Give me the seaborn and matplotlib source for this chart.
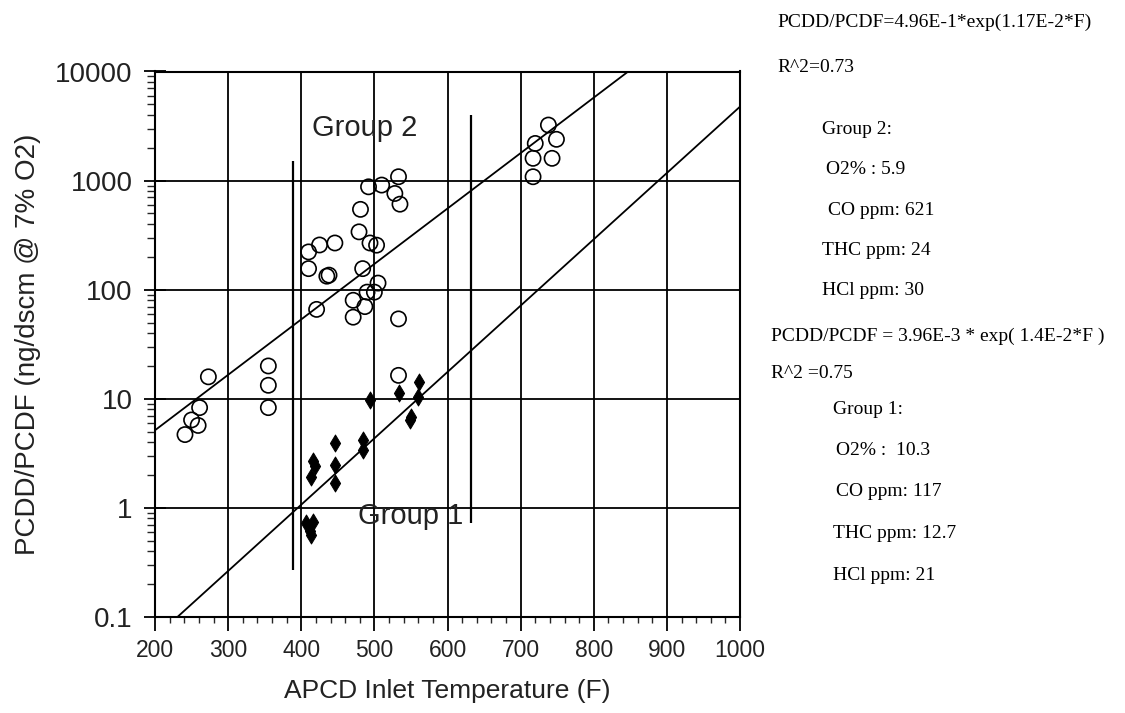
import numpy as np
import pandas as pd
import seaborn as sns
import matplotlib.pyplot as plt
from matplotlib.ticker import FixedLocator, LogLocator, NullFormatter

# group 2 (open circles)
g2_temp = [241, 250, 259, 261, 273, 355, 355, 355, 410, 410, 421, 425, 435, 438,
           446, 471, 471, 479, 481, 484, 487, 490, 494, 500, 503, 505, 492, 510,
           528, 533, 535, 533, 533, 717, 717, 720, 738, 743, 749]
g2_val = [4.7, 6.4, 5.7, 8.3, 15.9, 8.3, 13.3, 20, 222, 156, 66, 257, 133, 136,
          268, 80, 56, 339, 545, 156, 70, 95, 268, 95, 256, 115, 877, 910,
          762, 1085, 608, 54, 16.4, 1085, 1600, 2190, 3230, 1600, 2390]

# group 1 (filled diamonds)
g1_temp = [494, 533, 561, 560, 549, 550, 446, 485, 485, 416, 419, 414, 446, 446,
           407, 416, 412, 414]
g1_val = [9.7, 11.2, 14.3, 10.4, 6.4, 6.8, 3.9, 4.2, 3.4, 2.7, 2.4, 1.9, 2.45, 1.7,
          0.72, 0.74, 0.62, 0.56]

# fit coefficients from the annotations
fit2_a, fit2_b = 4.96e-1, 1.17e-2
fit1_a, fit1_b = 3.96e-3, 1.4e-2

# group separator lines: x, ymin, ymax
sep_x = [389, 632]
sep_lo = [0.27, 0.72]
sep_hi = [1500, 4000]

xticks = [200, 300, 400, 500, 600, 700, 800, 900, 1000]
yticks = [0.1, 1, 10, 100, 1000, 10000]
ytick_labels = ["0.1", "1", "10", "100", "1000", "10000"]

notes = [
    ("PCDD/PCDF=4.96E-1*exp(1.17E-2*F)", 777, 22),
    ("R^2=0.73", 777, 68),
    ("Group 2:", 822, 130),
    ("O2% : 5.9", 826, 170),
    ("CO ppm: 621", 828, 210),
    ("THC ppm: 24", 822, 250),
    ("HCl ppm: 30", 822, 290),
    ("PCDD/PCDF = 3.96E-3 * exp( 1.4E-2*F )", 771, 336),
    ("R^2 =0.75", 771, 373),
    ("Group 1:", 833, 410),
    ("O2% :  10.3", 836, 451),
    ("CO ppm: 117", 836, 492),
    ("THC ppm: 12.7", 833, 534),
    ("HCl ppm: 21", 833, 575),
]

sns.set_style("ticks")
plt.rcParams['font.family'] = ['Liberation Sans', 'DejaVu Sans']

W, H = 1125, 713
fig = plt.figure(figsize=(W / 100, H / 100), dpi=100)
ax = fig.add_axes([155 / W, 1 - 617 / H, 585 / W, (617 - 71.5) / H])

df2 = pd.DataFrame({"temp": g2_temp, "val": g2_val})
df1 = pd.DataFrame({"temp": g1_temp, "val": g1_val})
sns.scatterplot(data=df2, x="temp", y="val", ax=ax, marker="o", s=120,
                facecolor="none", edgecolor="black", linewidth=1.2, zorder=4)
sns.scatterplot(data=df1, x="temp", y="val", ax=ax, marker="d", s=75,
                color="black", edgecolor="black", zorder=4)

xf = np.linspace(200, 1000, 200)
fit = pd.DataFrame({"temp": np.concatenate([xf, xf]),
                    "val": np.concatenate([fit2_a * np.exp(fit2_b * xf),
                                           fit1_a * np.exp(fit1_b * xf)]),
                    "grp": ["g2"] * len(xf) + ["g1"] * len(xf)})
sns.lineplot(data=fit, x="temp", y="val", units="grp", estimator=None,
             color="black", linewidth=1.3, ax=ax, zorder=3)

ax.vlines(sep_x, sep_lo, sep_hi, color="black", linewidth=1.6, zorder=3)

ax.set_yscale("log")
ax.set_xlim(200, 1000)
ax.set_ylim(0.1, 10000)
ax.set_xticks(xticks)
ax.set_xticklabels([str(t) for t in xticks])
ax.xaxis.set_minor_locator(FixedLocator(np.arange(200, 1001, 20)))
ax.set_yticks(yticks)
ax.set_yticklabels(ytick_labels)
ax.yaxis.set_minor_locator(LogLocator(base=10, subs=np.arange(2, 10)))
ax.yaxis.set_minor_formatter(NullFormatter())
ax.grid(True, which="major", color="black", linewidth=1.3)
ax.tick_params(axis="both", which="major", length=10, width=1.3,
               color="black", labelcolor="#222222")
ax.tick_params(axis="x", which="major", labelsize=16.5, pad=6)
ax.tick_params(axis="y", which="major", direction="inout", length=16,
               labelsize=20, pad=8)
ax.tick_params(axis="y", which="minor", direction="out", length=6, width=1)
ax.tick_params(axis="x", which="minor", direction="out", length=4, width=1)
for sp in ax.spines.values():
    sp.set_color("black")
    sp.set_linewidth(1.5)

ax.set_xlabel("APCD Inlet Temperature (F)", fontsize=19, color="#222222", labelpad=12)
ax.set_ylabel("PCDD/PCDF (ng/dscm @ 7% O2)", fontsize=20, color="#222222", labelpad=10)

ax.text(487, 3030, "Group 2", fontsize=21, color="#222222", ha="center", va="center")
ax.text(549, 0.85, "Group 1", fontsize=21, color="#222222", ha="center", va="center")

for txt, px, py in notes:
    fig.text(px / W, 1 - py / H, txt, fontsize=14, family=["Liberation Serif"],
             ha="left", va="center", color="black")

fig.savefig("out.png", dpi=100)
